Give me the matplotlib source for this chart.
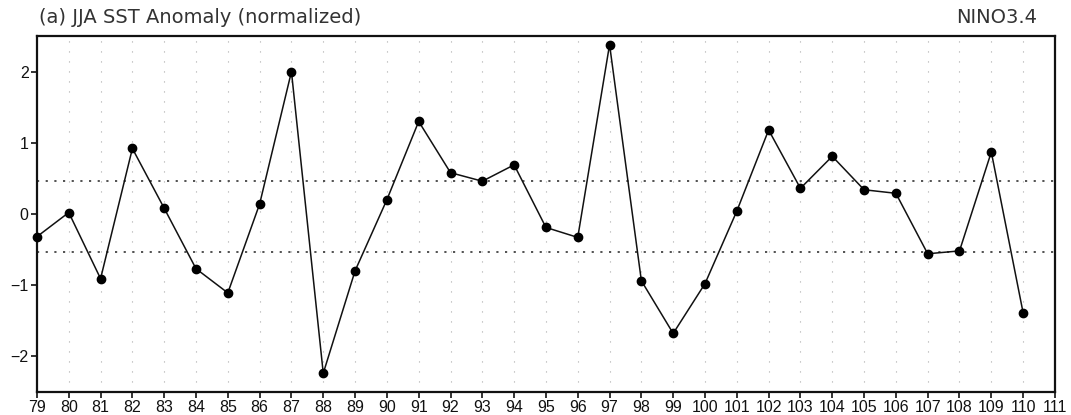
import matplotlib
matplotlib.use("Agg")
import matplotlib.pyplot as plt
import numpy as np

years = list(range(79, 111))
values = [-0.32, 0.02, -0.91, 0.92, 0.08, -0.77, -1.11, 0.14, 2.00, -2.24,
          -0.80, 0.20, 1.30, 0.58, 0.46, 0.69, -0.19, -0.33, 2.38, -0.94,
          -1.68, -0.98, 0.04, 1.18, 0.36, 0.81, 0.34, 0.29, -0.56, -0.52,
          0.87, -1.39]
ref_lines = [0.46, -0.535]
xticks = list(range(79, 112))
yticks = [-2, -1, 0, 1, 2]
title_left = "(a) JJA SST Anomaly (normalized)"
title_right = "NINO3.4"

fig = plt.figure(figsize=(10.71, 4.15), dpi=100)
ax = fig.add_axes([0.0345, 0.056, 0.9505, 0.857])

for x in xticks[1:-1]:
    ax.axvline(x, color="#aaaaaa", lw=0.8, linestyle=(0, (1, 8)), zorder=1)
for r in ref_lines:
    ax.axhline(r, color="#444444", lw=1.3, linestyle=(0, (1.2, 3.6)), zorder=2)

ax.plot(years, values, color="#111111", lw=1.1, marker="o", ms=6,
        mfc="black", mec="black", zorder=3, clip_on=False)

ax.set_xlim(79, 111)
ax.set_ylim(-2.5, 2.5)
ax.set_xticks(xticks)
ax.set_xticklabels([str(t) for t in xticks])
ax.set_yticks(yticks)
ax.set_yticklabels([str(t).replace("-", "\u2212") for t in yticks])
for s in ax.spines.values():
    s.set_linewidth(1.6)
    s.set_color("#111111")
ax.tick_params(axis="both", direction="out", length=4, width=1.2,
               labelsize=11.5, pad=2, colors="#111111")
for lab in ax.get_xticklabels() + ax.get_yticklabels():
    lab.set_family("Liberation Sans")

fig.text(0.036, 0.958, title_left, ha="left", va="center", fontsize=14,
         color="#333333", family="DejaVu Sans")
fig.text(0.968, 0.958, title_right, ha="right", va="center", fontsize=14,
         color="#333333", family="DejaVu Sans")

fig.savefig("out.png", dpi=100)
